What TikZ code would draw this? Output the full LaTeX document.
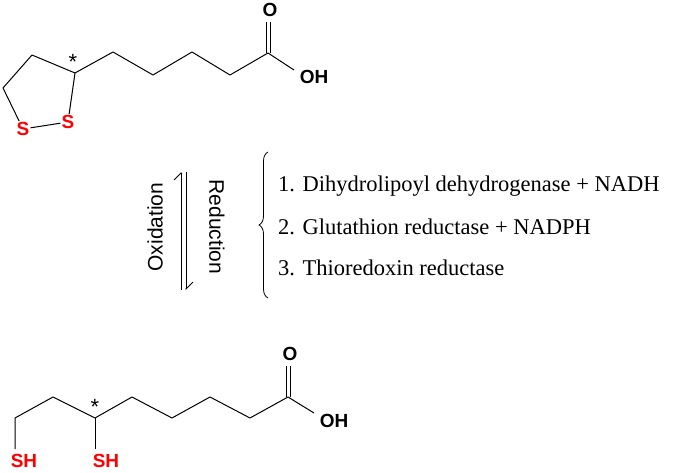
\documentclass[tikz,border=0pt]{standalone}
\usepackage{fontspec}
\setmainfont{Liberation Serif}
\setsansfont{Liberation Sans}
\usetikzlibrary{arrows.meta,decorations.pathreplacing}
\begin{document}
\begin{tikzpicture}[x=1pt,y=-1pt,
  bond/.style={line width=1pt,line join=round},
  atom/.style={font=\sffamily\bfseries\fontsize{19}{19}\selectfont,inner sep=1pt},
  satom/.style={atom,text=red},
  lbl/.style={font=\fontsize{22.5}{22.5}\selectfont,anchor=west,inner sep=0pt}]
\useasboundingbox (0,0) rectangle (685,473);
% top molecule
\node[satom] (s1) at (23,129) {S};
\node[satom] (s2) at (68,122) {S};
\node[atom] (o1) at (270,10) {O};
\node[atom] (oh1) at (314,77) {OH};
\node[font=\sffamily\fontsize{22}{22}\selectfont] (st1) at (73,62) {*};
\draw[bond] (s1) -- (s2);
\draw[bond] (s2) -- (75,73) -- (32,55) -- (3,88) -- (s1);
\draw[bond] (75,73) -- (113,52) -- (153,75) -- (192,52) -- (230,75) -- (268,53) -- (294,70);
\draw[bond] (266,53) -- (266,22);
\draw[bond] (270.5,53) -- (270.5,22);
% bottom molecule
\node[satom] (sh1) at (24,461) {SH};
\node[satom] (sh2) at (106,461) {SH};
\node[atom] (o2) at (290,354) {O};
\node[atom] (oh2) at (334,421) {OH};
\node[font=\sffamily\fontsize{22}{22}\selectfont] (st2) at (95,407) {*};
\draw[bond] (15,449) -- (15,418) -- (53,397) -- (95,418) -- (132,397) -- (172,418) -- (210,397) -- (250,418) -- (288,397) -- (314,413);
\draw[bond] (95,418) -- (95,449);
\draw[bond] (286,397) -- (286,366);
\draw[bond] (290.5,397) -- (290.5,366);
% middle
\node[rotate=90,font=\sffamily\fontsize{21}{21}\selectfont] (ox) at (155,227) {Oxidation};
\node[rotate=-90,font=\sffamily\fontsize{21}{21}\selectfont] (red) at (217,227) {Reduction};
\coordinate (a1) at (181,290); \coordinate (a2) at (181,172);
\coordinate (b1) at (186,172); \coordinate (b2) at (186,290);
\draw[line width=0.8pt,-{Straight Barb[left,length=7pt]}] (a1) -- (a2);
\draw[line width=0.8pt,-{Straight Barb[left,length=7pt]}] (b1) -- (b2);
\draw[line width=0.8pt,decorate,decoration={brace,amplitude=9pt}] (268,298) -- (268,152);
\node[lbl] (t1) at (278,186) {1. Dihydrolipoyl dehydrogenase + NADH};
\node[lbl] (t2) at (278,227) {2. Glutathion reductase + NADPH};
\node[lbl] (t3) at (278,268) {3. Thioredoxin reductase};
\end{tikzpicture}
\end{document}
